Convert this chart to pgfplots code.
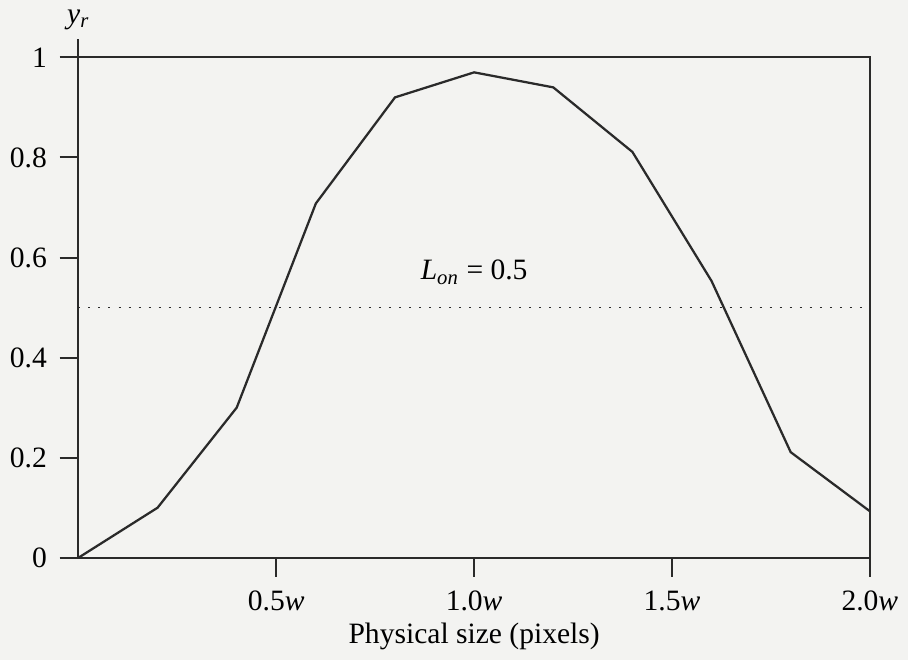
\documentclass[border=0pt]{standalone}
\usepackage{pgfplots}
\pgfplotsset{compat=1.18}
\usepackage{fontspec}
\setmainfont{Liberation Serif}
\usetikzlibrary{backgrounds}
\definecolor{bg}{HTML}{F3F3F1}
\definecolor{ink}{HTML}{2A2A2A}
\begin{document}
\fontsize{11.8}{14}\selectfont
\begin{tikzpicture}
\begin{axis}[
  scale only axis,
  width=316pt, height=207pt,
  xmin=0, xmax=2, ymin=0, ymax=1.036,
  axis lines=left,
  axis line style={-, ink, line width=0.8pt},
  xtick={0.5,1,1.5,2},
  xticklabels={0.5\textit{w},1.0\textit{w},1.5\textit{w},2.0\textit{w}},
  ytick={0,0.2,0.4,0.6,0.8,1},
  yticklabels={0,0.2,0.4,0.6,0.8,1},
  tick align=outside,
  major tick length=7.5pt,
  tick style={ink, line width=0.8pt},
  xticklabel style={yshift=-1.5pt},
  yticklabel style={xshift=-1pt},
  xlabel={Physical size (pixels)},
  xlabel style={yshift=3pt},
  clip=false,
]
\addplot[ink, line width=0.8pt] coordinates {(0,1) (2,1) (2,0)};
\addplot[ink, line width=0.6pt, dash pattern=on 0.8pt off 3.2pt] coordinates {(0,0.5) (2,0.5)};
\addplot[ink, line width=0.9pt] coordinates {
(0,0) (0.2,0.10) (0.4,0.30) (0.6,0.708) (0.8,0.92) (1.0,0.97)
(1.2,0.94) (1.4,0.811) (1.6,0.553) (1.8,0.211) (2.0,0.093)};
\node at (axis cs:1.0,0.57) {\textit{L}\textsubscript{\textit{on}} = 0.5};
\node at (axis cs:0,1.075) {\textit{y}\textsubscript{\textit{r}}};
\end{axis}
\begin{scope}[on background layer]
\fill[bg] (current bounding box.south west) rectangle (current bounding box.north east);
\end{scope}
\end{tikzpicture}
\end{document}
